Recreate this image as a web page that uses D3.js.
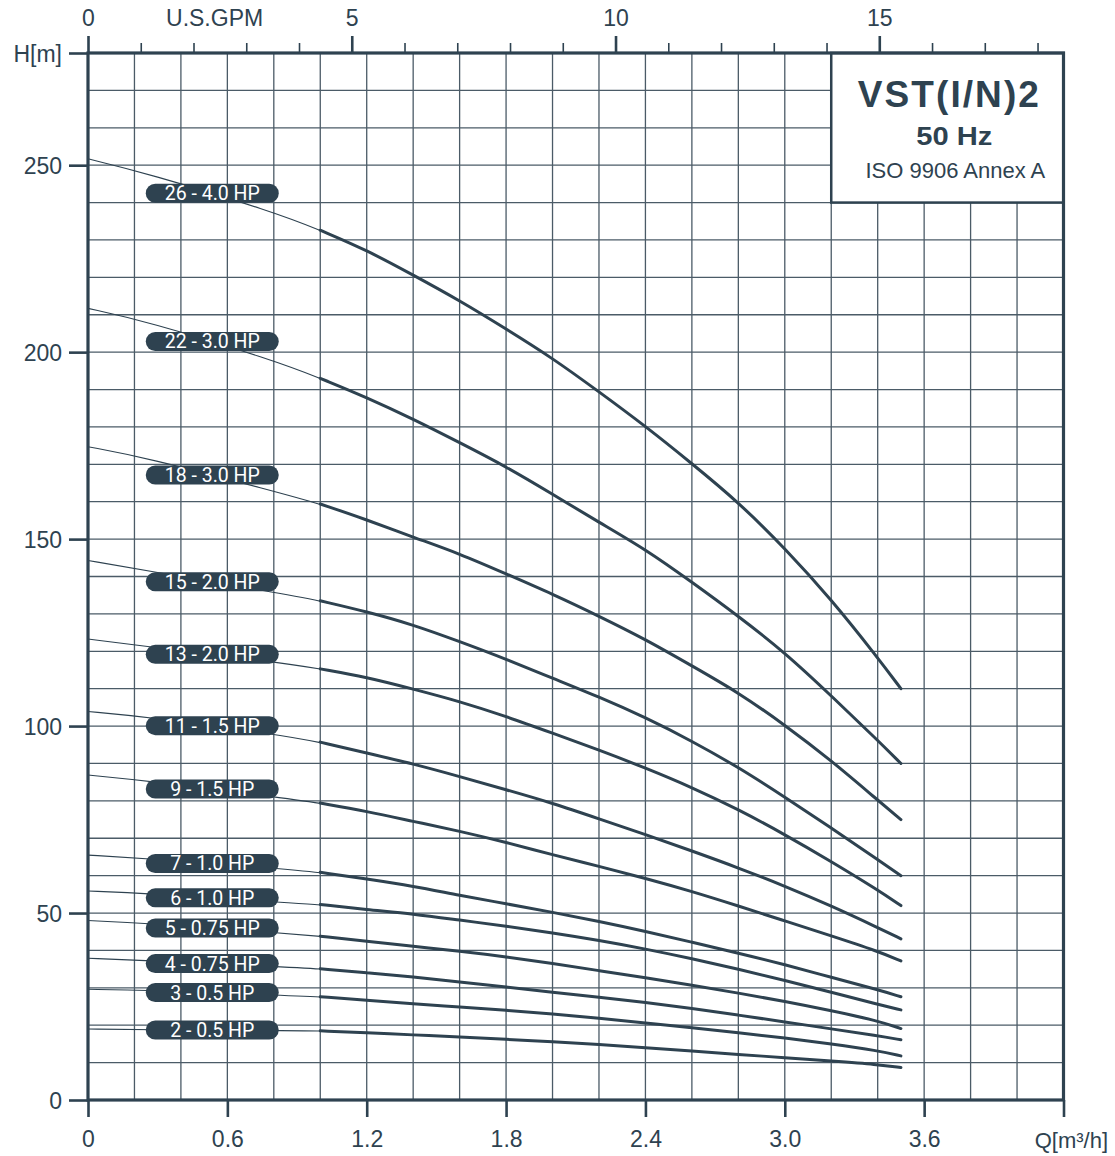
<!DOCTYPE html>
<html>
<head>
<meta charset="utf-8">
<script src="https://cdn.jsdelivr.net/npm/d3@7"></script>
<style>
  html, body { margin: 0; padding: 0; background: #fff; }
  svg { display: block; }
</style>
</head>
<body>
<svg id="chart" width="1115" height="1156"></svg>
<script>
// Flow rates (m³/h) at which every performance curve is tabulated
const flowPoints = [0, 0.25, 0.8, 1.0, 1.2, 1.4, 1.6, 1.8, 2.0, 2.2, 2.4, 2.6, 2.8, 3.0, 3.2, 3.4, 3.5];

// Delivery head (m) for each pump model, one value per flow point
const head26 = [251.7, 247.9, 237.5, 232.6, 227.3, 220.6, 213.8, 206.2, 198.4, 189.4, 180.2, 170.2, 159.9, 147.6, 133.9, 118.3, 110.0];
const head22 = [211.7, 208.3, 197.8, 193.0, 187.9, 182.1, 175.8, 169.4, 162.0, 154.5, 147.3, 138.5, 129.4, 119.7, 108.1, 96.2, 90.0];
const head18 = [174.7, 171.8, 162.8, 159.4, 155.2, 150.5, 146.1, 140.7, 135.3, 129.4, 123.2, 116.1, 109.0, 100.3, 90.8, 80.2, 75.0];
const head15 = [144.3, 141.6, 135.8, 133.5, 130.6, 127.1, 122.6, 117.9, 112.8, 107.8, 102.3, 96.0, 89.0, 81.0, 72.8, 64.3, 60.0];
const head13 = [123.3, 121.3, 117.2, 115.3, 113.1, 109.9, 106.6, 102.6, 98.1, 93.6, 88.8, 83.6, 77.7, 71.0, 63.8, 56.2, 52.0];
const head11 = [103.9, 102.5, 97.9, 95.7, 92.8, 89.9, 86.5, 83.0, 79.4, 75.2, 71.0, 66.6, 62.1, 57.2, 51.9, 46.1, 43.1];
const head9  = [86.9, 85.4, 81.1, 79.4, 77.2, 74.5, 71.9, 68.9, 65.6, 62.5, 59.3, 55.8, 51.9, 47.9, 43.9, 39.8, 37.2];
const head7  = [65.5, 64.6, 62.0, 60.9, 59.1, 57.2, 54.7, 52.5, 50.2, 47.8, 45.1, 42.2, 39.3, 36.2, 32.8, 29.5, 27.6];
const head6  = [55.9, 55.3, 52.9, 52.3, 50.9, 49.8, 48.1, 46.5, 44.7, 42.7, 40.4, 37.8, 35.0, 32.0, 28.8, 25.6, 24.1];
const head5  = [48.0, 47.3, 44.8, 43.8, 42.5, 41.1, 39.8, 38.3, 36.5, 34.6, 32.7, 30.7, 28.6, 26.4, 23.9, 21.2, 19.1];
const head4  = [37.9, 37.3, 35.7, 35.1, 34.0, 32.9, 31.6, 30.2, 28.8, 27.5, 26.1, 24.5, 22.7, 20.9, 19.0, 17.2, 16.1];
const head3  = [29.6, 29.4, 28.1, 27.6, 26.7, 25.7, 24.9, 24.0, 23.0, 21.9, 20.6, 19.3, 18.0, 16.6, 15.0, 13.2, 11.8];
const head2  = [19.0, 18.8, 18.6, 18.5, 18.0, 17.4, 16.9, 16.2, 15.6, 14.9, 14.0, 13.1, 12.2, 11.3, 10.4, 9.5, 8.7];

const curveHeads  = [head26, head22, head18, head15, head13, head11, head9, head7, head6, head5, head4, head3, head2];
const curveLabels = ["26 - 4.0 HP", "22 - 3.0 HP", "18 - 3.0 HP", "15 - 2.0 HP", "13 - 2.0 HP", "11 - 1.5 HP",
                     "9 - 1.5 HP", "7 - 1.0 HP", "6 - 1.0 HP", "5 - 0.75 HP", "4 - 0.75 HP", "3 - 0.5 HP", "2 - 0.5 HP"];

// Axis ticks
const flowTicks = [0, 0.6, 1.2, 1.8, 2.4, 3.0, 3.6, 4.2];
const headTicks = [0, 50, 100, 150, 200, 250, 280];
const gpmMajorTicks = [0, 5, 10, 15];
const gpmMinorTicks = [1, 2, 3, 4, 6, 7, 8, 9, 11, 12, 13, 14, 16, 17, 18];

// Title block texts
const titleLines = ["VST(I/N)2", "50 Hz", "ISO 9906 Annex A"];

const INK = "#2e4250";
const GRID = "#4b5b67";
const M3H_TO_GPM = 4.402868;
const FLOW_MAX = 4.2, HEAD_MAX = 280;
const THICK_FROM = 1.0;     // flow where the recommended (thick) range starts
const LABEL_FLOW = 0.535;   // flow at which the model tags sit

const svg = d3.select("#chart");

const x = d3.scaleLinear().domain([0, FLOW_MAX]).range([88, 1063.5]);
const y = d3.scaleLinear().domain([0, HEAD_MAX]).range([1100, 53]);
const xGpm = d3.scaleLinear().domain([0, FLOW_MAX * M3H_TO_GPM]).range(x.range());

// Grid
const grid = svg.append("g").attr("stroke", GRID).attr("stroke-width", 1.3);
grid.selectAll("line.v")
  .data(d3.range(1, 21).map(i => i * 0.2))
  .join("line").attr("class", "v")
  .attr("x1", d => x(d)).attr("x2", d => x(d))
  .attr("y1", y(0)).attr("y2", y(HEAD_MAX));
grid.selectAll("line.h")
  .data(d3.range(1, 28).map(i => i * 10))
  .join("line").attr("class", "h")
  .attr("x1", x(0)).attr("x2", x(FLOW_MAX))
  .attr("y1", d => y(d)).attr("y2", d => y(d));

// Title block covering the upper right corner of the grid
const box = svg.append("g");
box.append("rect")
  .attr("x", x(3.2)).attr("y", y(280))
  .attr("width", x(4.2) - x(3.2)).attr("height", y(240) - y(280))
  .attr("fill", "#fff").attr("stroke", INK).attr("stroke-width", 2.5);
const boxCx = (x(3.2) + x(4.2)) / 2 + 1;
box.append("text").text(titleLines[0])
  .attr("x", boxCx).attr("y", 107).attr("text-anchor", "middle")
  .attr("font-family", "'Liberation Sans', Arial, sans-serif").attr("font-weight", "bold")
  .attr("font-size", 37).attr("fill", INK)
  .attr("textLength", 181).attr("lengthAdjust", "spacing");
box.append("text").text(titleLines[1])
  .attr("x", boxCx + 6).attr("y", 145).attr("text-anchor", "middle")
  .attr("font-family", "'Liberation Sans', Arial, sans-serif").attr("font-weight", "bold")
  .attr("font-size", 26).attr("fill", INK)
  .attr("textLength", 76).attr("lengthAdjust", "spacingAndGlyphs");
box.append("text").text(titleLines[2])
  .attr("x", boxCx + 7).attr("y", 178).attr("text-anchor", "middle")
  .attr("font-family", "'Liberation Sans', Arial, sans-serif")
  .attr("font-size", 22).attr("fill", INK);

// Performance curves: thin below the working range, thick inside it
const line = d3.line()
  .x(d => x(d[0])).y(d => y(d[1]))
  .curve(d3.curveBasis);

const curves = svg.append("g").attr("fill", "none").attr("stroke", INK).attr("stroke-linecap", "round");
curveHeads.forEach(heads => {
  const pts = flowPoints.map((q, i) => [q, heads[i]]);
  curves.append("path").attr("d", line(pts)).attr("stroke-width", 1.1);
  curves.append("path").attr("d", line(pts.filter(p => p[0] >= THICK_FROM))).attr("stroke-width", 3);
});

// Model tags placed on their curves
const tags = svg.append("g");
curveHeads.forEach((heads, i) => {
  const hAt = d3.scaleLinear().domain(flowPoints).range(heads);
  const cx = x(LABEL_FLOW), cy = y(hAt(LABEL_FLOW));
  const g = tags.append("g").attr("transform", `translate(${cx},${cy})`);
  g.append("rect")
    .attr("x", -66.5).attr("y", -9.5).attr("width", 133).attr("height", 19)
    .attr("rx", 9.5).attr("fill", INK);
  g.append("text").text(curveLabels[i])
    .attr("y", 0.5).attr("text-anchor", "middle").attr("dominant-baseline", "central")
    .attr("font-family", "Roboto, sans-serif").attr("font-size", 19.5)
    .attr("fill", "#fff");
});

// Plot frame
svg.append("rect")
  .attr("x", x(0)).attr("y", y(HEAD_MAX))
  .attr("width", x(FLOW_MAX) - x(0)).attr("height", y(0) - y(HEAD_MAX))
  .attr("fill", "none").attr("stroke", INK).attr("stroke-width", 3.2);

function styleAxis(g, w) {
  g.select(".domain").remove();
  g.selectAll(".tick line").attr("stroke", INK).attr("stroke-width", w);
  g.selectAll(".tick text")
    .attr("fill", INK)
    .attr("font-family", "'Liberation Sans', Arial, sans-serif")
    .attr("font-size", 23);
}

// Bottom axis: flow in m³/h
const fmtFlow = d => d === 0 ? "0" : (d === FLOW_MAX ? "" : d3.format(".1f")(d));
svg.append("g")
  .attr("transform", `translate(0,${y(0)})`)
  .call(d3.axisBottom(x).tickValues(flowTicks).tickSize(17).tickPadding(14).tickFormat(fmtFlow))
  .call(g => styleAxis(g, 2.6));

svg.append("text").text("Q[m³/h]")
  .attr("x", 1108).attr("y", 1148).attr("text-anchor", "end")
  .attr("font-family", "'Liberation Sans', Arial, sans-serif").attr("font-size", 22).attr("fill", INK);

// Left axis: head in m
svg.append("g")
  .attr("transform", `translate(${x(0)},0)`)
  .call(d3.axisLeft(y).tickValues(headTicks).tickSize(19).tickPadding(7)
    .tickFormat(d => d === HEAD_MAX ? "H[m]" : String(d)))
  .call(g => styleAxis(g, 2.6))
  .call(g => g.selectAll(".tick text").attr("dy", "0.36em"));

// Top axis: flow in U.S. gallons per minute
svg.append("g")
  .attr("transform", `translate(0,${y(HEAD_MAX)})`)
  .call(d3.axisTop(xGpm).tickValues(gpmMinorTicks).tickSize(10).tickFormat(""))
  .call(g => styleAxis(g, 1.6));
svg.append("g")
  .attr("transform", `translate(0,${y(HEAD_MAX)})`)
  .call(d3.axisTop(xGpm).tickValues(gpmMajorTicks).tickSize(17).tickPadding(10).tickFormat(d3.format("d")))
  .call(g => styleAxis(g, 2.6));

svg.append("text").text("U.S.GPM")
  .attr("x", xGpm(2.4)).attr("y", 26).attr("text-anchor", "middle")
  .attr("font-family", "'Liberation Sans', Arial, sans-serif").attr("font-size", 23).attr("fill", INK);
</script>
</body>
</html>
